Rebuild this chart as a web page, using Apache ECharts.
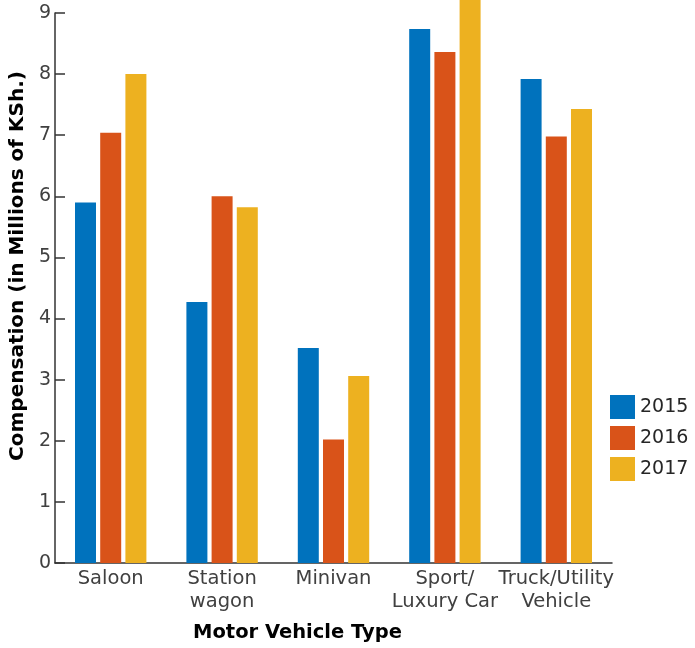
<!DOCTYPE html>
<html>
<head>
<meta charset="utf-8">
<script src="https://cdn.jsdelivr.net/npm/echarts@6/dist/echarts.min.js"></script>
<style>
html,body{margin:0;padding:0;background:#fff;}
#chart{width:695px;height:648px;}
</style>
</head>
<body>
<div id="chart"></div>
<script>
const categories = ['Saloon', 'Station\nwagon', 'Minivan', 'Sport/\nLuxury Car', 'Truck/Utility\nVehicle'];
const seriesNames = ['2015', '2016', '2017'];
const values2015 = [5.9, 4.27, 3.52, 8.74, 7.92];
const values2016 = [7.04, 6.0, 2.02, 8.36, 6.98];
const values2017 = [8.0, 5.82, 3.06, 9.5, 7.43];
const colors = ['#0072BD', '#D95319', '#EDB120'];

const font = 'DejaVu Sans, Verdana, sans-serif';
const chart = echarts.init(document.getElementById('chart'), null, {renderer: 'canvas'});
const dataSets = [values2015, values2016, values2017];
chart.setOption({
  animation: false,
  backgroundColor: '#ffffff',
  color: colors,
  textStyle: {fontFamily: font},
  grid: {left: 55, right: 83, top: 13, bottom: 85, containLabel: false},
  legend: {
    orient: 'vertical',
    left: 610, top: 395, padding: 0,
    itemWidth: 25, itemHeight: 24, itemGap: 7,
    icon: 'rect',
    textStyle: {fontSize: 19, color: '#262626', fontFamily: font},
    data: seriesNames
  },
  xAxis: {
    type: 'category',
    data: categories,
    name: 'Motor Vehicle Type',
    nameLocation: 'middle',
    nameGap: 60,
    nameTextStyle: {fontSize: 19.5, fontWeight: 'bold', color: '#000', fontFamily: font, padding: [0, 72, 0, 0]},
    axisLine: {lineStyle: {color: '#333333', width: 1.5}},
    axisTick: {show: false},
    axisLabel: {fontSize: 19.5, color: '#404040', lineHeight: 23, margin: 4, interval: 0, fontFamily: font}
  },
  yAxis: {
    type: 'value',
    min: 0, max: 9, interval: 1,
    name: 'Compensation (in Millions of KSh.)',
    nameLocation: 'middle',
    nameRotate: 90,
    nameGap: 22,
    nameTextStyle: {fontSize: 20, fontWeight: 'bold', color: '#000', fontFamily: font, padding: [0, 0, 0, 44]},
    axisLine: {show: true, lineStyle: {color: '#333333', width: 1.5}},
    axisTick: {show: true, inside: true, length: 10, lineStyle: {color: '#333333', width: 1.5}},
    axisLabel: {fontSize: 19, color: '#404040', margin: 4, fontFamily: font},
    splitLine: {show: false}
  },
  series: seriesNames.map((n, i) => ({
    name: n,
    type: 'bar',
    data: dataSets[i],
    barWidth: 21,
    barGap: '20%',
    clip: false,
    itemStyle: {color: colors[i]}
  }))
});
</script>
</body>
</html>
